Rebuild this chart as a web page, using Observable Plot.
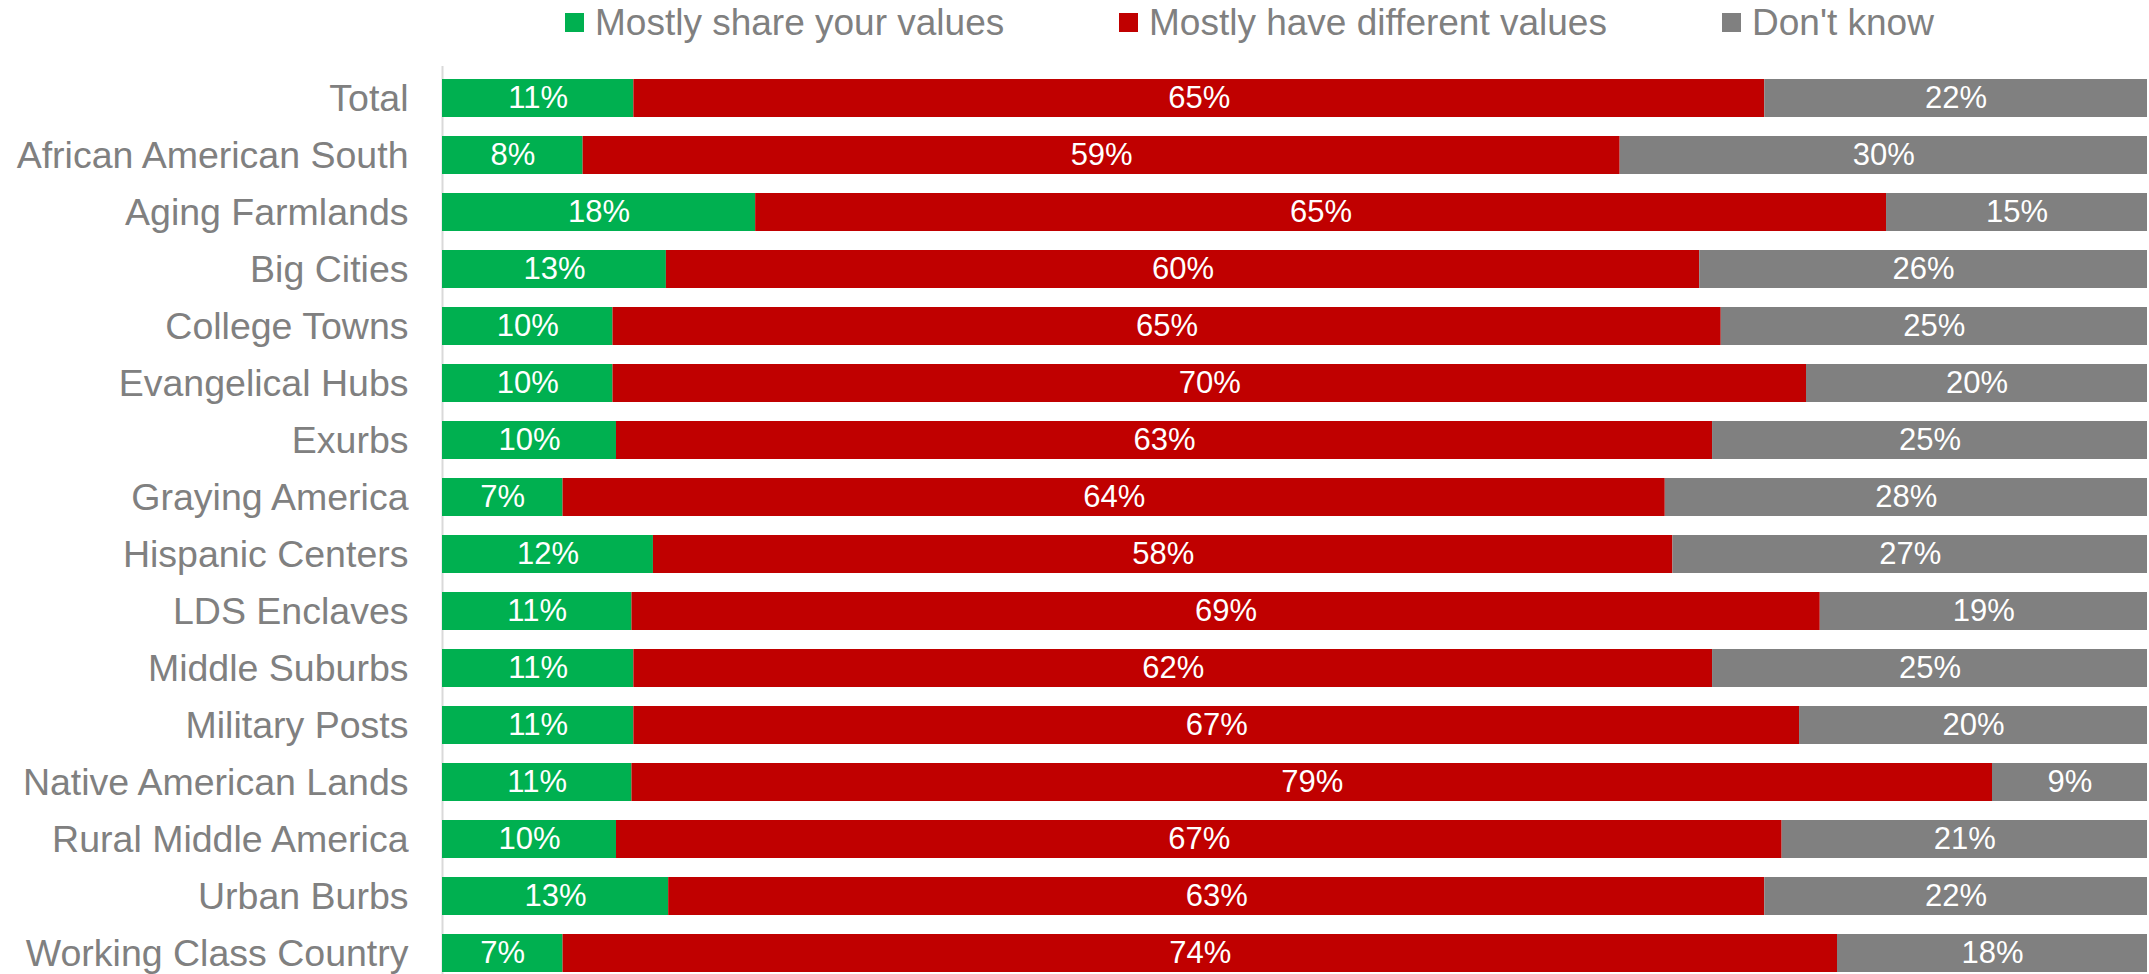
<!DOCTYPE html>
<html>
<head>
<meta charset="utf-8">
<script src="https://cdn.jsdelivr.net/npm/d3@7"></script>
<script src="https://cdn.jsdelivr.net/npm/@observablehq/plot@0.6"></script>
<style>
  html, body { margin: 0; padding: 0; background: #fff; }
  body { width: 2149px; height: 974px; overflow: hidden; font-family: "Liberation Sans", Arial, sans-serif; }
  #legend { position: relative; height: 60px; width: 2149px; }
  .item { position: absolute; top: 0; height: 45px; display: flex; align-items: center; font-size: 37px; color: #808080; white-space: nowrap; }
  .sw { width: 19px; height: 19px; margin-right: 11px; display: inline-block; }
  #chart svg { display: block; }
</style>
</head>
<body>
<div id="legend"></div>
<div id="chart"></div>
<script>
const categories = [
  "Total", "African American South", "Aging Farmlands", "Big Cities", "College Towns",
  "Evangelical Hubs", "Exurbs", "Graying America", "Hispanic Centers", "LDS Enclaves",
  "Middle Suburbs", "Military Posts", "Native American Lands", "Rural Middle America",
  "Urban Burbs", "Working Class Country"
];
const shareValues     = [11, 8, 18, 13, 10, 10, 10, 7, 12, 11, 11, 11, 11, 10, 13, 7];
const differentValues = [65, 59, 65, 60, 65, 70, 63, 64, 58, 69, 62, 67, 79, 67, 63, 74];
const dontKnowValues  = [22, 30, 15, 26, 25, 20, 25, 28, 27, 19, 25, 20, 9, 21, 22, 18];
const seriesNames  = ["Mostly share your values", "Mostly have different values", "Don't know"];
const seriesColors = ["#00b050", "#c00000", "#808080"];
const legendLeft   = [565, 1119, 1722];

const seriesValues = [shareValues, differentValues, dontKnowValues];
const data = categories.flatMap((c, i) =>
  seriesNames.map((s, j) => ({category: c, series: s, value: seriesValues[j][i]}))
);

// Legend
const legend = document.getElementById("legend");
seriesNames.forEach((s, j) => {
  const el = document.createElement("div");
  el.className = "item";
  el.style.left = legendLeft[j] + "px";
  el.innerHTML = `<span class="sw" style="background:${seriesColors[j]}"></span><span>${s}</span>`;
  legend.appendChild(el);
});

const chart = Plot.plot({
  width: 2149,
  height: 914,
  marginLeft: 442,
  marginRight: 2,
  marginTop: 18,
  marginBottom: 0,
  style: {fontFamily: "'Liberation Sans', Arial, sans-serif", background: "#fff"},
  x: {domain: [0, 1], axis: null},
  y: {domain: categories, paddingInner: 0.33, paddingOuter: 0, axis: null},
  color: {domain: seriesNames, range: seriesColors},
  marks: [
    Plot.ruleX([0], {stroke: "#d9d9d9", strokeWidth: 2, insetTop: -12}),
    Plot.barX(data, Plot.stackX({offset: "normalize", x: "value", y: "category", fill: "series", z: "series"})),
    Plot.textX(data, Plot.stackX({offset: "normalize", x: "value", y: "category", z: "series",
      text: d => d.value + "%", fill: "white", fontSize: 31})),
    Plot.axisY({tickSize: 0, tickPadding: 34, fontSize: 37.5, color: "#808080", label: null})
  ]
});
document.getElementById("chart").appendChild(chart);
</script>
</body>
</html>
